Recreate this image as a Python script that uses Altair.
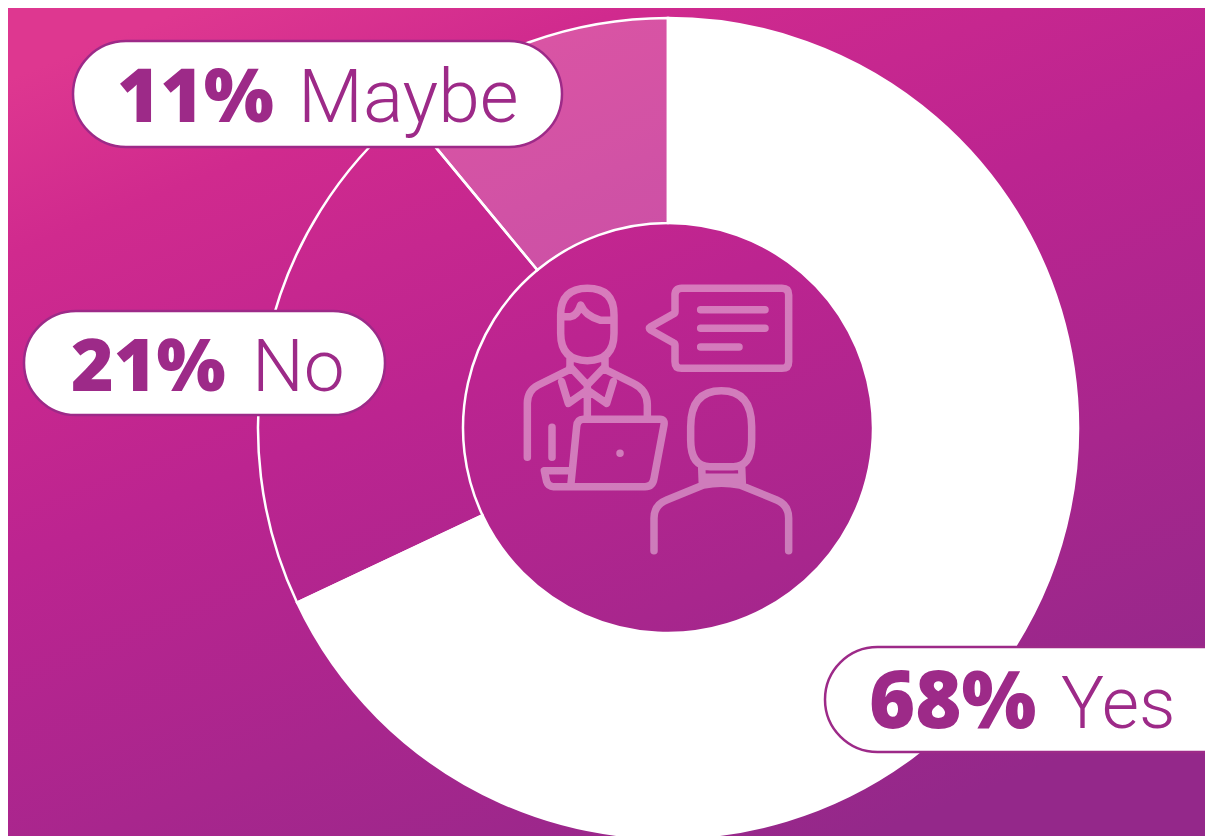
import altair as alt
import pandas as pd

categories = ["Yes", "No", "Maybe"]
shares = [68, 21, 11]
slice_colors = ["#ffffff", "rgba(255,255,255,0)", "rgba(255,255,255,0.2)"]

W, H = 1197, 828
OX, OY = 8, 8  # page margin
PURPLE = "#9D2A88"

bg = alt.Chart(pd.DataFrame({"a": [0]})).mark_rect(
    color=alt.LinearGradient(
        gradient="linear", x1=0.15, y1=0, x2=0.72, y2=1,
        stops=[
            alt.GradientStop(color="#DE3790", offset=0),
            alt.GradientStop(color="#D02A8E", offset=0.16),
            alt.GradientStop(color="#BC2490", offset=0.44),
            alt.GradientStop(color="#94288A", offset=1),
        ],
    )
).encode(x=alt.value(0), x2=alt.value(W), y=alt.value(0), y2=alt.value(H))

df = pd.DataFrame({"cat": categories, "share": shares, "ord": range(len(shares))})
donut = alt.Chart(df).mark_arc(
    innerRadius=205, outerRadius=410, stroke="#ffffff", strokeWidth=2.5
).encode(
    theta=alt.Theta("share:Q", stack=True),
    order=alt.Order("ord:Q"),
    color=alt.Color("cat:N", scale=alt.Scale(domain=categories, range=slice_colors), legend=None),
    x=alt.value(668 - OX),
    y=alt.value(428 - OY),
)

ICON = [
    # speech bubble
    "M545 55H846Q866 55 866 75V275Q866 295 846 295H545Q525 295 525 275V225Q525 220 520 218L452 180Q444 175 452 170L520 132Q525 130 525 125V75Q525 55 545 55Z",
    "M602 119H795M602 175H795M602 231H717",
    # presenter
    "M182 135Q182 55 262 55Q342 55 342 135V190Q342 272 262 272Q182 272 182 190Z",
    "M186 140H212Q232 136 242 105Q256 138 302 151H340",
    "M210 265V297M315 265V297",
    "M82 562V400Q82 362 115 345L210 298M315 298L400 340Q442 360 442 405V440",
    "M210 290L262 345L315 290M185 335L205 400L262 360L320 400L340 335M262 345V440",
    "M156 472V562",
    # laptop
    "M212 650L230 470Q232 448 250 448H480Q495 448 492 465L462 625Q458 650 435 650H160Q145 650 140 635L133 602H215",
    "M360 550h0.1",
    # listener
    "M664 362Q755 362 755 470V510Q755 590 700 590H630Q572 590 572 510V470Q572 362 664 362Z",
    "M605 590L607 642M725 590L727 642M607 622H725",
    "M462 842V745Q462 705 500 690L610 645Q664 634 720 645L830 690Q866 705 866 745V842",
]
icon = alt.Chart(pd.DataFrame({"a": [0]})).mark_point(
    shape=" ".join(ICON), size=4 / 9, filled=False, stroke="#ffffff", strokeOpacity=0.4,
    strokeWidth=7.5, strokeCap="round", strokeJoin="round", opacity=1,
).encode(x=alt.value(500 - OX), y=alt.value(270 - OY))


def pill(i, x0, x1, y0, y1, px, lx, base, psize, lsize):
    pct = f"{shares[i]}%"
    data = pd.DataFrame({"pct": [pct], "lab": [categories[i]]})
    c = alt.Chart(data)
    r = c.mark_rect(
        fill="#ffffff", stroke=PURPLE, strokeWidth=2.5, cornerRadius=(y1 - y0) / 2
    ).encode(x=alt.value(x0 - OX), x2=alt.value(x1 - OX), y=alt.value(y0 - OY), y2=alt.value(y1 - OY))
    a = c.mark_text(
        font="Open Sans", fontWeight=800, fontSize=psize, align="left", baseline="alphabetic", color=PURPLE
    ).encode(text="pct:N", x=alt.value(px - OX), y=alt.value(base - OY))
    b = c.mark_text(
        font="Roboto", fontWeight=300, fontSize=lsize, align="left", baseline="alphabetic", color=PURPLE
    ).encode(text="lab:N", x=alt.value(lx - OX), y=alt.value(base - OY))
    return r + a + b


chart = alt.layer(
    bg,
    donut,
    icon,
    pill(2, 73, 562, 41, 147, 117, 298, 122, 74, 75),
    pill(1, 24, 385, 311, 415, 71, 252, 391, 73, 73),
    pill(0, 825, 1270, 647, 752, 869, 1061, 728, 79, 72),
).properties(
    width=W, height=H, padding=0, autosize=alt.AutoSizeParams(type="none")
).configure_view(strokeWidth=0)

chart.save("out.html", embed_options={"renderer": "svg", "actions": False})
